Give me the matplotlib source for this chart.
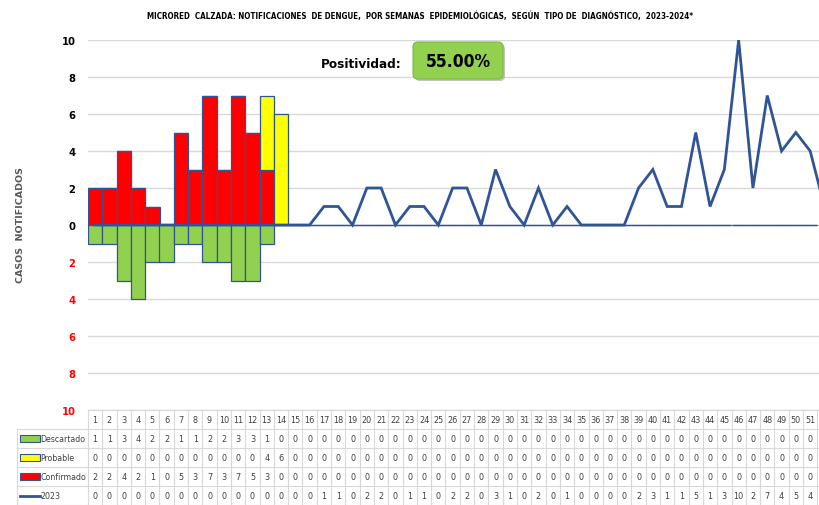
import matplotlib
matplotlib.use("Agg")
import matplotlib.pyplot as plt
from matplotlib.patches import Rectangle, FancyBboxPatch
from matplotlib.transforms import IdentityTransform
import numpy as np

plt.rcParams["font.family"] = ["DejaVu Sans"]
plt.rcParams["font.stretch"] = "condensed"
NARROW = dict(family="DejaVu Sans", fontstretch="condensed")

weeks = list(range(1, 52))
descartado = [1, 1, 3, 4, 2, 2, 1, 1, 2, 2, 3, 3, 1] + [0] * 38
probable = [0] * 12 + [4, 6] + [0] * 37
confirmado = [2, 2, 4, 2, 1, 0, 5, 3, 7, 3, 7, 5, 3] + [0] * 38
# 2023 series; the last value (week 52) is only seen as the clipped tail of the line
y2023 = [0] * 16 + [1, 1, 0, 2, 2, 0, 1, 1, 0, 2, 2, 0, 3, 1, 0, 2, 0, 1, 0, 0,
                    0, 0, 2, 3, 1, 1, 5, 1, 3, 10, 2, 7, 4, 5, 4] + [1]
row_names = ["Descartado", "Probable", "Confirmado", "2023"]
yticks = [-10, -8, -6, -4, -2, 0, 2, 4, 6, 8, 10]

title = ("MICRORED  CALZADA: NOTIFICACIONES  DE DENGUE,  POR SEMANAS  EPIDEMIOLÓGICAS,  "
         "SEGÚN  TIPO DE  DIAGNÓSTICO,  2023-2024*")
positividad = "55.00%"

C_RED = "#FF0000"
C_YEL = "#FFFF00"
C_GRN = "#92D050"
C_BLUE = "#2F5597"
C_GRID = "#D9D9D9"
C_TXT = "#404040"

W, H = 820, 506
fig = plt.figure(figsize=(W / 100, H / 100), dpi=100)

# pixel layout
x_left, col_w = 88, 14.3
y_top, y_bot = 41, 411
x_right_data = 0.5 + (W - x_left) / col_w


def px(xp):
    return 0.5 + (xp - x_left) / col_w


ax = fig.add_axes([x_left / W, 1 - y_bot / H, 1 - x_left / W, (y_bot - y_top) / H])
ax.set_xlim(0.5, x_right_data)
ax.set_ylim(-10, 10)
for s in ax.spines.values():
    s.set_visible(False)
ax.set_xticks([])
ax.set_yticks(yticks)
ax.set_yticklabels([str(abs(v)) for v in yticks], fontweight="bold", fontsize=8, **NARROW)
for lab, v in zip(ax.get_yticklabels(), yticks):
    lab.set_color(C_RED if v < 0 else "black")
ax.tick_params(axis="y", length=0, pad=9)
ax.yaxis.grid(True, color=C_GRID, lw=1)
ax.set_axisbelow(True)

w = np.array(weeks)
ax.bar(w, confirmado, width=1.0, color=C_RED, edgecolor=C_BLUE, lw=0.9, zorder=2)
ax.bar(w, probable, width=1.0, bottom=confirmado, color=C_YEL, edgecolor=C_BLUE, lw=0.9,
       zorder=2)
mask = np.array(descartado) > 0
ax.bar(w[mask], -np.array(descartado)[mask], width=1.0, color=C_GRN, edgecolor=C_BLUE,
       lw=0.9, zorder=2)
ax.plot(np.arange(1, len(y2023) + 1), y2023, color=C_BLUE, lw=2.0, zorder=3,
        solid_joinstyle="miter")

# data table
tax = fig.add_axes([x_left / W, 0, 1 - x_left / W, (H - y_bot) / H])
tax.set_xlim(0.5, x_right_data)
tax.set_ylim(0, 5)
tax.axis("off")
lab_l = px(17)
kw_line = dict(color=C_GRID, lw=0.8, clip_on=False)
for k in range(len(weeks) + 1):
    tax.plot([0.5 + k, 0.5 + k], [0, 5], **kw_line)
tax.plot([0.5, x_right_data], [5, 5], **kw_line)
for r in range(5):
    tax.plot([lab_l, x_right_data], [r, r], **kw_line)
tax.plot([lab_l, lab_l], [0, 4], **kw_line)

for wk in weeks:
    tax.text(wk, 4.5, str(wk), ha="center", va="center", fontsize=6.5, color=C_TXT,
             **NARROW)
rows = [descartado, probable, confirmado, y2023]
for i, vals in enumerate(rows):
    yc = 3.5 - i
    for wk in weeks:
        tax.text(wk, yc, str(vals[wk - 1]), ha="center", va="center", fontsize=6.5,
                 color=C_TXT, **NARROW)

key_l, key_r = px(20), px(40)
for i, (name, col) in enumerate(zip(row_names, [C_GRN, C_YEL, C_RED, None])):
    yc = 3.5 - i
    if col is not None:
        tax.add_patch(Rectangle((key_l, yc - 0.17), key_r - key_l, 0.34, facecolor=col,
                                edgecolor=C_BLUE, lw=0.8, clip_on=False))
    else:
        tax.plot([key_l, key_r], [yc, yc], color=C_BLUE, lw=2, clip_on=False)
    tax.text(key_r + 0.03, yc, name, ha="left", va="center", fontsize=6.3, color=C_TXT,
             **NARROW)

# texts
fig.text(420 / W, 1 - 16 / H, title, ha="center", va="center", fontsize=5.8,
         fontweight="bold", **NARROW)
fig.text(21 / W, 1 - 225 / H, "CASOS  NOTIFICADOS", rotation=90, ha="center",
         va="center", fontsize=6.8, fontweight="bold", color="#595959",
         family="DejaVu Sans", fontstretch="normal")
fig.text(402 / W, 1 - 65 / H, "Positividad:", ha="right", va="center", fontsize=9.6,
         fontweight="bold", **NARROW)

ident = IdentityTransform()
fig.add_artist(FancyBboxPatch((415, H - 82), 90, 37,
                              boxstyle="round,pad=0,rounding_size=5",
                              facecolor="#9a9a9a", edgecolor="none", alpha=0.6,
                              transform=ident))
fig.add_artist(FancyBboxPatch((413, H - 80), 90, 37,
                              boxstyle="round,pad=0,rounding_size=5",
                              facecolor=C_GRN, edgecolor="#7fb844", lw=0.8,
                              transform=ident))
fig.text(458 / W, 1 - 62 / H, positividad, ha="center", va="center", fontsize=12.5,
         fontweight="bold", **NARROW)

fig.savefig("out.png", dpi=100)
